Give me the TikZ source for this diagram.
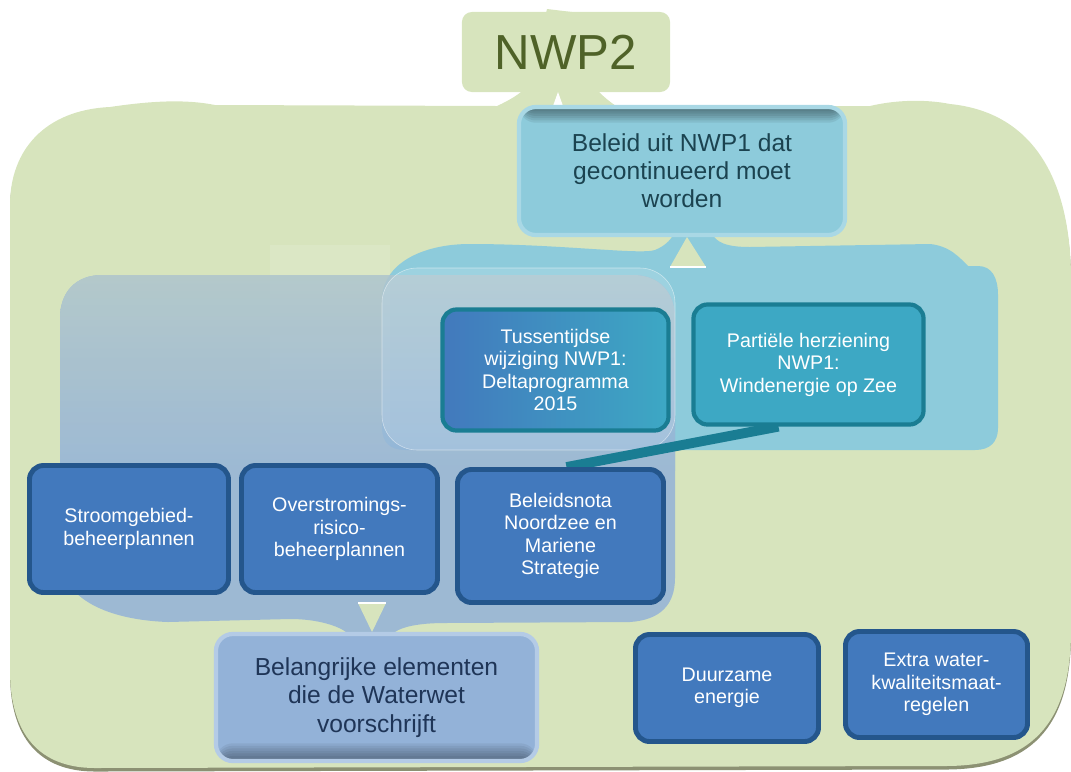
\documentclass[tikz,border=0pt]{standalone}
\usepackage{fontspec}
\setmainfont{Liberation Sans}
\usetikzlibrary{calc}

\definecolor{groen}{HTML}{D7E4BD}
\definecolor{donkergroen}{HTML}{4F6228}
\definecolor{schaduw}{HTML}{8C9173}
\definecolor{lichtteal}{HTML}{8DCBDB}
\definecolor{tealrand}{HTML}{A9D8E5}
\definecolor{zeeteal}{HTML}{3DA8C4}
\definecolor{tealdonker}{HTML}{1A7D93}
\definecolor{blauw}{HTML}{4279BD}
\definecolor{blauwrand}{HTML}{24568C}
\definecolor{grijsblauw}{HTML}{93B2D8}
\definecolor{grijsrand}{HTML}{B4CBE6}
\definecolor{grijsgroen}{HTML}{B3C8CB}
\definecolor{tekstteal}{HTML}{1B4350}
\definecolor{tekstblauw}{HTML}{1F3557}

\pgfdeclarelayer{back}
\pgfdeclarelayer{mid}
\pgfsetlayers{back,mid,main}

\begin{document}
\begin{tikzpicture}[x=0.025cm,y=-0.025cm,
    darkbox/.style={draw=blauwrand,fill=blauw,line width=3.5pt,rounded corners=10pt,
      text=white,align=center,font=\fontsize{14}{16}\selectfont},
    seabox/.style={draw=tealdonker,line width=3pt,rounded corners=10pt,
      text=white,align=center,font=\fontsize{14}{16}\selectfont},
    bigbox/.style={line width=3pt,rounded corners=12pt,align=center,
      font=\fontsize{17.5}{20}\selectfont}]
    \useasboundingbox (0,0) rectangle (1071,771);

    % hoofdvakken
    \node [fill=groen,rounded corners=7pt,text=donkergroen,minimum width=5.2cm,
      minimum height=2cm,font=\fontsize{35}{40}\selectfont] (nwp) at (566,52) {NWP2};
    \node [bigbox,draw=tealrand,fill=lichtteal,text=tekstteal,minimum width=8.15cm,
      minimum height=3.2cm,
      path picture={\foreach \i in {1,...,7}
        \fill [black,opacity=0.07] (path picture bounding box.north west)
          rectangle ([yshift=-\i*1.6pt]path picture bounding box.north east);}]
      (beleid) at (682,171) {Beleid uit NWP1 dat\\gecontinueerd moet\\worden};
    \node [bigbox,draw=grijsrand,fill=grijsblauw,text=tekstblauw,minimum width=8.025cm,
      minimum height=3.175cm,
      path picture={\foreach \i in {1,...,7}
        \fill [black,opacity=0.06] (path picture bounding box.south west)
          rectangle ([yshift=\i*1.8pt]path picture bounding box.south east);}]
      (waterwet) at (376.5,697.5) {Belangrijke elementen\\die de Waterwet\\voorschrijft};

    % NWP1
    \node [seabox,left color=blauw,right color=zeeteal,minimum width=5.65cm,minimum height=3.025cm]
      (tussen) at (555.5,370) {Tussentijdse\\wijziging NWP1:\\Deltaprogramma\\2015};
    \node [seabox,fill=zeeteal,minimum width=5.75cm,minimum height=3cm]
      (partieel) at (808.5,364.5) {Partiële herziening\\NWP1:\\Windenergie op Zee};

    % Waterwet
    \node [darkbox,minimum width=4.975cm,minimum height=3.175cm] (stroom) at (129,529)
      {Stroomgebied-\\beheerplannen};
    \node [darkbox,minimum width=4.9cm,minimum height=3.175cm] (overstr) at (339.5,529)
      {Overstromings-\\risico-\\beheerplannen};
    \node [darkbox,minimum width=5.15cm,minimum height=3.325cm] (noordzee) at (560.5,536)
      {Beleidsnota\\Noordzee en\\Mariene\\Strategie};

    % nieuw
    \node [darkbox,minimum width=4.575cm,minimum height=2.675cm] (duurzaam) at (727,688)
      {Duurzame\\energie};
    \node [darkbox,minimum width=4.55cm,minimum height=2.65cm] (extra) at (936.5,684.5)
      {Extra water-\\kwaliteitsmaat-\\regelen};

    \begin{pgfonlayer}{mid}
      \draw [tealdonker,line width=7pt] ($(noordzee.north)+(6,0)$) -- ($(partieel.south)+(-30,0)$);
    \end{pgfonlayer}

    \begin{pgfonlayer}{back}
      % groot vlak
      \fill [groen,preaction={fill=schaduw,transform canvas={yshift=-2.5pt}}]
        (10,205) .. controls (10,150) and (45,110) .. (110,107)
        .. controls (150,101) and (185,99) .. (215,105) -- (497,106)
        .. controls (508,101) and (516,96) .. (521,92) -- (599,92)
        .. controls (604,97) and (610,102) .. (616,106) -- (870,106)
        .. controls (895,100) and (925,99) .. (950,104)
        .. controls (1030,112) and (1071,175) .. (1071,280) -- (1071,630)
        .. controls (1071,725) and (1030,766) .. (945,766) -- (95,768)
        .. controls (40,768) and (10,735) .. (10,670) -- cycle;
      \fill [white] (553,106) -- (558,92) -- (563,106) -- cycle;
      \fill [groen] (546,13) -- (547,9) -- (572,12) -- (572,13) -- cycle;
      % NWP1 vlak
      \fill [lichtteal]
        (382,300) .. controls (382,265) and (420,244) .. (470,244)
        .. controls (560,244) and (640,255) .. (655,250)
        .. controls (665,246) and (670,240) .. (672,237) -- (714,237)
        .. controls (720,244) and (730,247) .. (750,247) -- (930,244)
        .. controls (950,246) and (960,258) .. (968,266) -- (978,266)
        .. controls (992,266) and (998,278) .. (998,295) -- (998,428)
        .. controls (998,442) and (990,450) .. (975,450) -- (405,450)
        .. controls (390,450) and (382,442) .. (382,428) -- cycle;
      \fill [groen] (670,267) -- (687,237) -- (706,267) -- cycle;
      \draw [white,line width=1pt] (670,267) -- (706,267);
      \fill [white,opacity=0.12] (270,245) rectangle (390,462);
      % Waterwet vlak
      \begin{scope}[transparency group,opacity=0.85]
        \clip (60,318) .. controls (60,292) and (76,275) .. (102,275) -- (633,275)
          .. controls (659,275) and (675,292) .. (675,318) -- (675,578)
          .. controls (675,605) and (660,620) .. (630,622) -- (445,623)
          .. controls (418,623) and (402,627) .. (395,632) -- (346,632)
          .. controls (338,626) and (318,619) .. (290,619) -- (168,622)
          .. controls (110,620) and (60,600) .. (60,555) -- cycle;
        \fill [grijsblauw] (50,260) rectangle (690,640);
        \shade [top color=grijsgroen,bottom color=grijsblauw] (50,235) rectangle (690,470);
      \end{scope}
      \fill [groen] (358,603) -- (372,632) -- (386,603) -- cycle;
      \draw [white,line width=1pt] (358,603) -- (386,603);
      \draw [white,draw opacity=0.5,fill=white,fill opacity=0.15,rounded corners=25pt]
        (382,268) rectangle (675,450);
    \end{pgfonlayer}
\end{tikzpicture}
\end{document}
